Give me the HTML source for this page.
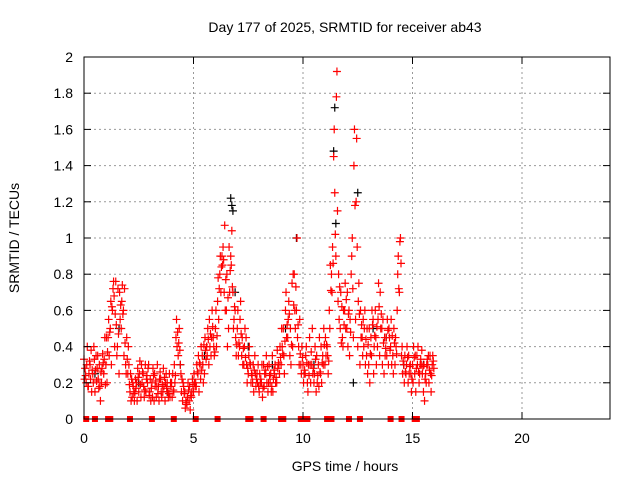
<!DOCTYPE html>
<html><head><meta charset="utf-8"><style>
body{margin:0;background:#fff}
svg{display:block;font-family:"Liberation Sans",sans-serif}
</style></head><body>
<svg id="c" width="640" height="480">
<rect x="0" y="0" width="640" height="480" fill="#fff"/>
<text x="345" y="32" font-size="14" text-anchor="middle">Day 177 of 2025, SRMTID for receiver ab43</text>
<text x="345" y="471" font-size="14" text-anchor="middle">GPS time / hours</text>
<text transform="translate(19,238) rotate(-90)" font-size="14" text-anchor="middle">SRMTID / TECUs</text>
<g id="grid"></g><g id="blk"></g><g id="red"></g><g id="frame"></g>
</svg>
<script>
const xTicks=[0,5,10,15,20];
const yTicks=[0,0.2,0.4,0.6,0.8,1,1.2,1.4,1.6,1.8,2];
const redA=[.33,.2,.18,.22,.25,.15,.28,.3,.2,.25, .3,.45,.5,.6,.4,.35,.25,.5,.6,.3, .25,.15,.12,.1,.2,.15,.12,.25,.3,.2, .15,.2,.1,.12,.18,.22,.15,.1,.2,.25, .2,.15,.45,.35,.3,.1,.15,.08,.1,.12, .15,.2,.25,.3,.35,.25,.4,.3,.35,.45, .5,.65,.8,.9,.7,.6,.5,.9,.7,.6, .5,.4,.35,.3,.45,.25,.3,.2,.35,.25, .15,.2,.3,.25,.15,.2,.35,.25,.2,.3, .3,.5,.6,.45,.35,.75,.8,.6,.4,.3, .3,.25,.2,.45,.3,.2,.15,.3,.25,.35, .3,.4,.6,.8,1.45,.9,.65,.5,.45,.6, .5,.6,.8,.45,.55,.4,.3,.45,.5,.35, .3,.45,.55,.6,.4,.35,.5,.25,.45,.3, .4,.35,.3,.6,.7,.35,.3,.25,.2,.3, .3,.25,.35,.2,.3,.15,.25,.3,.35,.3];
const redB=[.22,.3,.25,.38,.2,.27,.35,.18,.28,.33, .45,.55,.65,.72,.58,.4,.7,.65,.35,.25, .4,.25,.2,.15,.1,.25,.3,.18,.15,.28, .22,.12,.25,.18,.1,.15,.28,.2,.15,.12, .12,.3,.55,.42,.25,.2,.06,.12,.18,.15, .25,.18,.35,.22,.3,.45,.35,.55,.45,.4, .6,.78,.9,.85,1.07,.8,.95,.85,.5,.45, .6,.55,.45,.4,.3,.35,.2,.3,.25,.2, .25,.3,.18,.35,.2,.25,.15,.3,.38,.25, .5,.35,.7,.55,.5,.4,.6,1.0,.3,.25, .2,.35,.15,.3,.5,.25,.35,.18,.4,.3, .45,.35,.5,.7,1.6,1.78,.8,.7,.4,.75, .7,.35,.9,1.4,1.2,.65,.6,.35,.6,.5, .5,.35,.25,.45,.55,.7,.3,.45,.35,.5, .55,.25,.45,.8,.98,.4,.2,.3,.35,.25, .2,.35,.3,.25,.38,.3,.2,.35,.25,.35];
const redC=[.28,.4,.32,.15,.4,.35,.22,.1,.36,.45, .2,.35,.3,.76,.76,.72,.55,.74,.72,.45, .3,.1,.18,.22,.28,.32,.2,.12,.22,.3, .1,.28,.18,.3,.22,.12,.18,.25,.12,.2, .25,.2,.4,.5,.15,.18,.1,.2,.05,.22, .2,.3,.15,.4,.2,.38,.5,.4,.6,.35, .4,.55,.7,.95,.6,.4,.7,1.04,.55,.35, .35,.65,.3,.5,.2,.4,.25,.15,.18,.3, .2,.12,.25,.2,.3,.15,.22,.2,.28,.4, .4,.25,.45,.65,.3,.8,.5,.45,.55,.4, .25,.4,.3,.2,.25,.4,.2,.45,.2,.5, .35,.25,.85,.95,1.25,1.92,.55,.42,.6,.5, .4,.55,1.0,1.6,1.55,.75,.45,.55,.3,.25, .2,.6,.4,.3,.75,.5,.55,.35,.55,.45, .3,.5,.4,.9,1.0,.25,.35,.4,.25,.15, .4,.15,.4,.3,.25,.1,.3,.2,.15,.32];
const redD=[.24,.18,.3,.27,.33,.21,.17,.26,.31,.19, .37,.48,.62,.68,.52,.47,.63,.58,.42,.33, .19,.22,.14,.17,.23,.19,.26,.16,.24,.13, .17,.24,.21,.14,.26,.19,.23,.17,.14,.18, .16,.24,.48,.38,.22,.14,.09,.16,.13,.19, .18,.26,.31,.27,.41,.33,.44,.47,.51,.37, .46,.72,.84,.88,.77,.67,.82,.73,.62,.41, .42,.47,.39,.34,.28,.31,.24,.27,.22,.18, .22,.17,.27,.29,.24,.18,.27,.23,.31,.34, .36,.43,.52,.58,.41,.63,.73,.52,.36,.34, .27,.31,.24,.37,.28,.33,.24,.26,.31,.41, .41,.32,.71,.86,1.02,1.15,.73,.62,.52,.66, .58,.48,.72,1.18,.95,.58,.52,.4,.44,.41, .36,.52,.46,.51,.62,.58,.42,.39,.49,.38, .46,.42,.36,.72,.86,.32,.26,.34,.29,.22, .34,.28,.26,.33,.29,.22,.33,.27,.24,.28];
const blkT=[0.5,1.6,2.5,3.8,4.4,5.5,6.7,6.75,6.8,6.9,7.5,8.6,9.2,9.7,10.5,11.4,11.45,11.5,12.3,12.5,13.2,13.8,14.6,15.5];
const blkV=[0.25,0.5,0.2,0.15,0.3,0.35,1.22,1.18,1.15,0.7,0.4,0.3,0.5,1.0,0.3,1.48,1.72,1.08,0.2,1.25,0.5,0.45,0.3,0.3];
const zeroT=[0.1,0.5,1.1,1.2,2.1,3.1,4.1,5.1,6.1,7.5,7.6,8.2,9.0,9.1,9.9,10.0,10.1,10.2,11.1,11.3,12.1,12.6,14.0,14.5,15.1,15.2];
const X=t=>84+t*21.9, Y=v=>419-v*181;
const NS='http://www.w3.org/2000/svg';
function mk(tag,at,par){const e=document.createElementNS(NS,tag);for(const k in at)e.setAttribute(k,at[k]);par.appendChild(e);return e;}
const grid=document.getElementById('grid'),frame=document.getElementById('frame');
xTicks.forEach(t=>{
 if(t>0){const l=mk('line',{x1:X(t),x2:X(t),y1:57,y2:419,stroke:'#999','stroke-dasharray':'2,3'},grid);
 
 }
 const tx=mk('text',{x:X(t),y:443,'font-size':14,'text-anchor':'middle'},frame);tx.textContent=t;
 
 
 mk('line',{x1:X(t),x2:X(t),y1:419,y2:412,stroke:'#000'},frame);
 mk('line',{x1:X(t),x2:X(t),y1:57,y2:64,stroke:'#000'},frame);
});
yTicks.forEach(v=>{
 if(v>0&&v<2){const l=mk('line',{x1:84,x2:610,y1:Y(v),y2:Y(v),stroke:'#999','stroke-dasharray':'2,3'},grid);
 
 }
 const tx=mk('text',{x:73,y:Y(v)+5,'font-size':14,'text-anchor':'end'},frame);tx.textContent=v;
 
 
 mk('line',{x1:84,x2:91,y1:Y(v),y2:Y(v),stroke:'#000'},frame);
 mk('line',{x1:610,x2:603,y1:Y(v),y2:Y(v),stroke:'#000'},frame);
});
const fr=mk('rect',{x:84,y:57,width:526,height:362,fill:'none',stroke:'#000'},frame);


function plus(t,v,col,par){const x=X(t),y=Y(v);
 const p=mk('path',{d:`M${x-4},${y}h8M${x},${y-4}v8`,stroke:col,'stroke-width':1.2,fill:'none'},par);
 
 }
const blk=document.getElementById('blk'),red=document.getElementById('red');
blkT.forEach((t,i)=>plus(t,blkV[i],'#000',blk));
redA.forEach((v,i)=>{const t=i*0.1;plus(t,v,'#f00',red);plus(t+0.025,redB[i],'#f00',red);plus(t+0.05,redC[i],'#f00',red);plus(t+0.075,redD[i],'#f00',red);});
zeroT.forEach(t=>{const r=mk('rect',{x:X(t)-3,y:416,width:6,height:6,fill:'#f00'},red);
 
 });
</script>
</body></html>
